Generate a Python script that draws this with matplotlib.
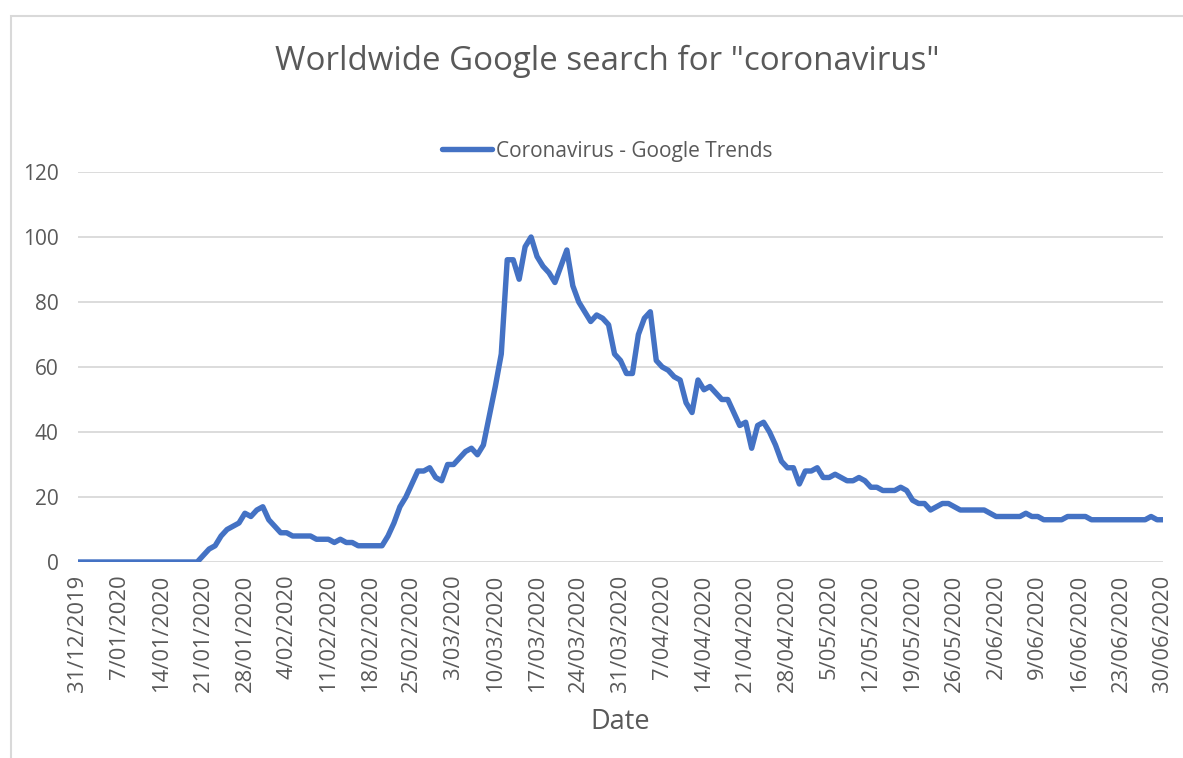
import pandas as pd
import matplotlib
matplotlib.use("Agg")
import matplotlib.pyplot as plt
from matplotlib.patches import Rectangle

# daily Google Trends index, 31/12/2019 .. 30/06/2020
start_date = "2019-12-31"
end_date = "2020-06-30"
trend = [
    0, 0, 0, 0, 0, 0, 0, 0, 0, 0, 0, 0, 0, 0, 0, 0, 0, 0, 0, 0,   # 31/12 - 19/01
    0, 2, 4, 5, 8, 10, 11, 12, 15, 14, 16, 17, 13, 11, 9, 9,      # 20/01 - 4/02
    8, 8, 8, 8, 7, 7, 7, 6, 7, 6, 6, 5, 5, 5, 5, 5,               # 5/02 - 20/02
    8, 12, 17, 20, 24, 28, 28, 29, 26, 25, 30, 30, 32, 34, 35, 33, 36,  # 21/02 - 8/03
    45, 54, 64, 93, 93, 87, 97, 100, 94, 91, 89, 86, 91, 96, 85, 80,    # 9/03 - 24/03
    77, 74, 76, 75, 73, 64, 62, 58, 58, 70, 75, 77, 62, 60, 59, 57,     # 25/03 - 9/04
    56, 49, 46, 56, 53, 54, 52, 50, 50, 46, 42, 43, 35, 42, 43, 40,     # 10/04 - 25/04
    36, 31, 29, 29, 24, 28, 28, 29, 26, 26, 27, 26, 25, 25, 26, 25,     # 26/04 - 11/05
    23, 23, 22, 22, 22, 23, 22, 19, 18, 18, 16, 17, 18, 18, 17, 16,     # 12/05 - 27/05
    16, 16, 16, 16, 15, 14, 14, 14, 14, 14, 15, 14, 14, 13, 13, 13,     # 28/05 - 12/06
    13, 14, 14, 14, 14, 13, 13, 13, 13, 13, 13, 13, 13, 13, 13, 14,     # 13/06 - 28/06
    13, 13,                                                             # 29/06 - 30/06
]
series_name = "Coronavirus - Google Trends"
title = 'Worldwide Google search for "coronavirus"'
y_ticks = [0, 20, 40, 60, 80, 100, 120]

dates = pd.date_range(start_date, end_date, freq="D")
df = pd.DataFrame({"date": dates, "value": trend})

plt.rcParams["font.family"] = ["Open Sans", "DejaVu Sans"]
grey_text = "#595959"

fig = plt.figure(figsize=(11.83, 7.58), dpi=100)
# chart area frame (cut off on the right and bottom like the screenshot)
fig.patches.append(Rectangle((11 / 1183, -0.05), 1.1, 1 - 16 / 758 + 0.05,
                             transform=fig.transFigure, fill=False,
                             edgecolor="#d9d9d9", linewidth=1.5))

ax = fig.add_axes([78 / 1183, 1 - 562 / 758, (1163 - 78) / 1183, (562 - 172) / 758])
ax.plot(df["date"], df["value"], color="#4472C4", linewidth=3.9,
        solid_joinstyle="round", solid_capstyle="round", label=series_name, zorder=3)

ax.set_xlim(dates[0], dates[-1])
ax.set_ylim(0, 120)
ax.set_yticks(y_ticks)
tick_dates = dates[::7]
ax.set_xticks(tick_dates)
ax.set_xticklabels([f"{d.day}/{d.month:02d}/{d.year}" for d in tick_dates],
                   rotation=90, va="top", ha="center")
ax.tick_params(axis="both", length=0, labelsize=15, labelcolor=grey_text)
ax.tick_params(axis="x", labelsize=15.8, pad=9)
ax.tick_params(axis="y", pad=14)
ax.grid(axis="y", color="#d9d9d9", linewidth=1.3)
ax.set_axisbelow(True)
for s in ax.spines.values():
    s.set_visible(False)

fig.text(607 / 1183, 1 - 61 / 758, title, ha="center", va="center",
         fontsize=23.8, color=grey_text)
ax.set_xlabel("Date", fontsize=19.5, color=grey_text, labelpad=12)
ax.legend(loc="center", bbox_to_anchor=(607 / 1183, 1 - 151 / 758),
          bbox_transform=fig.transFigure, frameon=False, fontsize=15,
          labelcolor=grey_text, handlelength=2.4, handletextpad=0.2)

fig.savefig("out.png", dpi=100)
